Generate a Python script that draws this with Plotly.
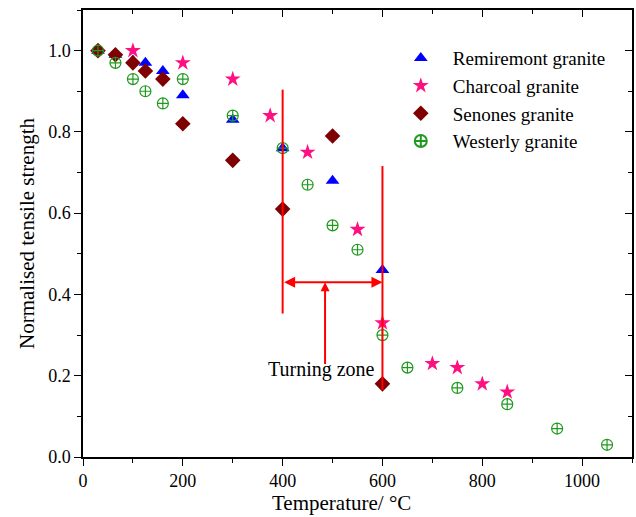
import plotly.graph_objects as go

# Normalised tensile strength of granites after heating
remiremont_t = [30, 65, 100, 125, 160, 200, 300, 400, 500, 600]
remiremont_s = [1.00, 0.99, 0.975, 0.97, 0.95, 0.89, 0.83, 0.76, 0.68, 0.46]

charcoal_t = [100, 200, 300, 375, 450, 550, 600, 700, 750, 800, 850]
charcoal_s = [1.00, 0.97, 0.93, 0.84, 0.75, 0.56, 0.33, 0.23, 0.22, 0.18, 0.16]

senones_t = [30, 65, 100, 125, 160, 200, 300, 400, 500, 600]
senones_s = [1.00, 0.99, 0.97, 0.95, 0.93, 0.82, 0.73, 0.61, 0.79, 0.18]

westerly_t = [30, 65, 100, 125, 160, 200, 300, 400, 450, 500, 550, 600, 650, 750, 850, 950, 1050]
westerly_s = [1.00, 0.97, 0.93, 0.90, 0.87, 0.93, 0.84, 0.76, 0.67, 0.57, 0.51, 0.30, 0.22, 0.17, 0.13, 0.07, 0.03]

# Turning-zone bracket (temperature bounds and line extents)
zone_left, zone_right = 400, 600
left_line = (0.353, 0.904)
right_line = (0.165, 0.716)
bracket_level = 0.43
pointer_t, pointer_base = 485, 0.225
label_t, label_s = 478, 0.215

FONT = "Liberation Serif, Times New Roman, serif"
RED = "#FF0000"

fig = go.Figure()
fig.add_trace(go.Scatter(x=remiremont_t, y=remiremont_s, mode="markers", name="Remiremont granite",
                         marker=dict(symbol="triangle-up", size=12, color="#0000FF", line=dict(width=0))))
fig.add_trace(go.Scatter(x=charcoal_t, y=charcoal_s, mode="markers", name="Charcoal granite",
                         marker=dict(symbol="star", size=12, color="#FF1080", line=dict(width=0))))
fig.add_trace(go.Scatter(x=senones_t, y=senones_s, mode="markers", name="Senones granite",
                         marker=dict(symbol="diamond", size=12, color="#7F0000", line=dict(width=0))))
fig.add_trace(go.Scatter(x=westerly_t, y=westerly_s, mode="markers", name="Westerly granite",
                         marker=dict(symbol="circle-cross-open", size=11, color="#1E9A1E",
                                     line=dict(width=1.2, color="#1E9A1E"))))

# Vertical boundary lines of the turning zone
fig.add_shape(type="line", x0=zone_left, x1=zone_left, y0=left_line[0], y1=left_line[1],
              line=dict(color=RED, width=2))
fig.add_shape(type="line", x0=zone_right, x1=zone_right, y0=right_line[0], y1=right_line[1],
              line=dict(color=RED, width=2))

# Double-headed arrow spanning the zone
fig.add_annotation(x=zone_right, y=bracket_level, ax=zone_left, ay=bracket_level,
                   xref="x", yref="y", axref="x", ayref="y", text="",
                   showarrow=True, arrowhead=2, arrowside="end+start", arrowsize=1.1,
                   arrowwidth=2, arrowcolor=RED)
# Pointer from the label up to the bracket
fig.add_annotation(x=pointer_t, y=bracket_level, ax=pointer_t, ay=pointer_base,
                   xref="x", yref="y", axref="x", ayref="y", text="",
                   showarrow=True, arrowhead=2, arrowsize=0.9, arrowwidth=2, arrowcolor=RED)
fig.add_annotation(x=label_t, y=label_s, xref="x", yref="y", text="Turning zone",
                   showarrow=False, font=dict(family=FONT, size=20, color="black"))

# X-axis title, set slightly left of the plot centre
fig.add_annotation(x=0.47, y=-0.103, xref="paper", yref="paper", text="Temperature/ °C",
                   showarrow=False, xanchor="center", yanchor="middle",
                   font=dict(family=FONT, size=21, color="black"))

axis_common = dict(showgrid=False, zeroline=False, showline=True, linecolor="black", linewidth=1.5,
                   tickcolor="black", tickwidth=1.2, ticklen=7,
                   tickfont=dict(family=FONT, size=18, color="black"))

fig.update_layout(
    width=636, height=517,
    margin=dict(l=83, r=4, t=10, b=60),
    paper_bgcolor="white", plot_bgcolor="white",
    font=dict(family=FONT, size=18, color="black"),
    xaxis=dict(range=[0, 1100], dtick=200, tick0=0, ticks="outside",
               minor=dict(dtick=100, ticks="outside", ticklen=4, tickcolor="black"),
               **axis_common),
    yaxis=dict(range=[0, 1.1], dtick=0.2, tick0=0, ticks="outside", tickformat=".1f",
               minor=dict(dtick=0.1, ticks="outside", ticklen=4, tickcolor="black"),
               title=dict(text="Normalised tensile strength", font=dict(family=FONT, size=21), standoff=8),
               **axis_common),
    xaxis2=dict(range=[0, 1100], dtick=200, tick0=0, ticks="inside", side="top", overlaying="x",
                matches="x", showticklabels=False,
                minor=dict(dtick=100, ticks="inside", ticklen=4, tickcolor="black"),
                **axis_common),
    yaxis2=dict(range=[0, 1.1], dtick=0.2, tick0=0, ticks="inside", side="right", overlaying="y",
                matches="y", showticklabels=False,
                minor=dict(dtick=0.1, ticks="inside", ticklen=4, tickcolor="black"),
                **axis_common),
    legend=dict(x=0.557, y=0.935, xanchor="left", yanchor="top", bgcolor="rgba(0,0,0,0)",
                font=dict(family=FONT, size=19), tracegroupgap=0, itemsizing="constant",
                itemwidth=54),
    showlegend=True,
)

# Invisible trace so the mirrored top/right axes are rendered
fig.add_trace(go.Scatter(x=[None], y=[None], xaxis="x2", yaxis="y2", showlegend=False,
                         hoverinfo="skip", mode="markers"))

fig.write_html("out.html")
